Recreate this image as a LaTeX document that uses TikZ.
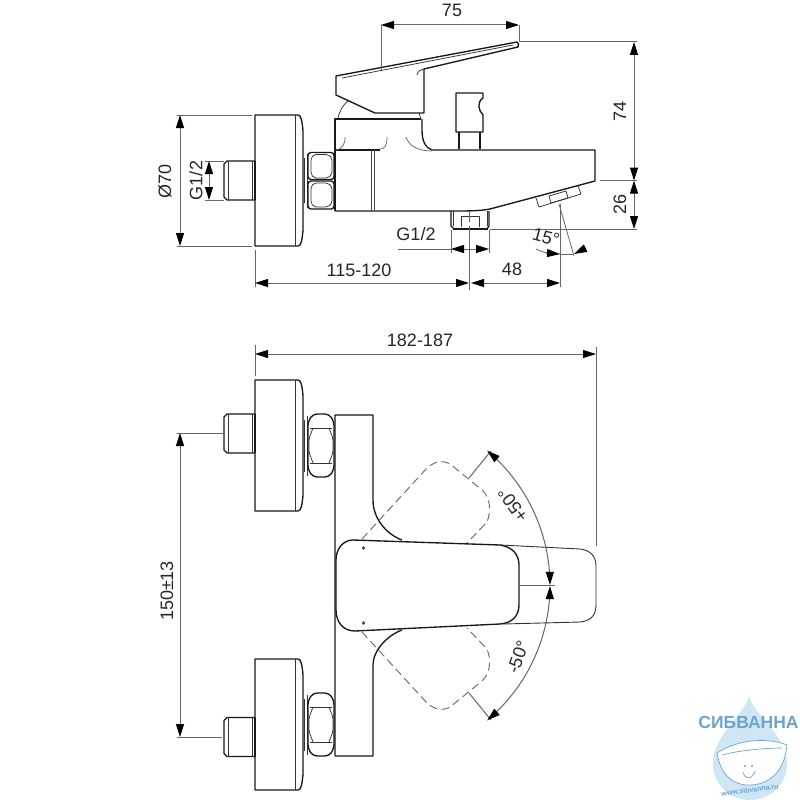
\documentclass[tikz,border=0pt]{standalone}
\usepackage{fontspec}
\setmainfont{Liberation Sans}
\usetikzlibrary{arrows.meta}
\definecolor{dimgray}{HTML}{666666}
\definecolor{logoblue}{HTML}{6FA3CF}
\definecolor{logolight}{HTML}{CFE6F5}
\tikzset{
  part/.style={draw=black!90,line width=1.35pt,line join=round},
  thinpart/.style={draw=black!80,line width=0.75pt,line join=round},
  hidden/.style={draw=black!60,line width=0.9pt,dash pattern=on 8pt off 4.5pt},
  dimline/.style={draw=dimgray,line width=1pt},
  both/.style={dimline,{Triangle[length=13pt,width=8pt,black]}-{Triangle[length=13pt,width=8pt,black]}},
  tipend/.style={dimline,-{Triangle[length=13pt,width=8pt,black]}},
  lab/.style={text=black!85,inner sep=0pt,font=\fontsize{18}{20}\selectfont},
  pics/plate/.style={code={
    \draw[part] (255,-65.5) -- (298,-65.5) .. controls (301,-65.5) and (302,-60) .. (303,-50) -- (303,50) .. controls (302,60) and (301,65.5) .. (298,65.5) -- (255,65.5) -- cycle;
    \draw[thinpart] (295,-65.5) -- (295,65.5);
  }},
  pics/stub/.style={code={
    \draw[part] (255,-19.5) -- (227,-19.5) -- (224,-16.5) -- (224,16.5) -- (227,19.5) -- (255,19.5);
    \draw[thinpart] (228,-19.5) -- (228,19.5) (252,-19.5) -- (252,19.5);
    \draw[part] (255,-19.5) -- (255,19.5);
  }},
  pics/longnut/.style={code={
    \draw[thinpart] (304,-26) -- (304,26) (307,-30) -- (307,30);
    \draw[part,rounded corners=4pt] (308,-24) -- (313,-31.5) -- (329,-31.5) -- (334,-24) -- (334,24) -- (329,31.5) -- (313,31.5) -- (308,24) -- cycle;
    \draw[thinpart] (310,-17.5) -- (332,-17.5) (310,17.5) -- (332,17.5);
    \draw[thinpart,rounded corners=2pt] (313,-17.5) -- (309,-7) -- (309,7) -- (313,17.5) (329,-17.5) -- (333,-7) -- (333,7) -- (329,17.5);
  }}
}
\begin{document}
\begin{tikzpicture}[x=1pt,y=-1pt]
\useasboundingbox (0,0) rectangle (800,800);
\fill[white] (0,0) rectangle (800,800);

% ---------- logo
\fill[logolight] (749,695) .. controls (745,715) and (713,735) .. (713,763) .. controls (713,785) and (730,800) .. (750,800) .. controls (770,800) and (787,785) .. (787,763) .. controls (787,735) and (753,715) .. (749,695) -- cycle;
\fill[white] (717,753) .. controls (740,738) and (770,738) .. (787,745) .. controls (785,770) and (770,786) .. (747,785) .. controls (730,784) and (720,772) .. (717,753) -- cycle;
\draw[logoblue,line width=0.7pt] (717,753) .. controls (740,738) and (770,738) .. (787,745) .. controls (785,770) and (770,786) .. (747,785) .. controls (730,784) and (720,772) .. (717,753) -- cycle;
\draw[logoblue,line width=0.7pt] (722,755) .. controls (740,750) and (768,748) .. (782,748);
\draw[logoblue,line width=0.7pt] (743,772) .. controls (745,780) and (752,780) .. (755,771);
\fill[logoblue] (745,766) circle (1.2pt) (752,766) circle (1.2pt);
\node[inner sep=0pt,text=logoblue,font=\fontsize{17.5}{19}\bfseries\selectfont] (logotext) at (748.5,722) {СИБВАННА};
\node[inner sep=0pt,text=logoblue,rotate=8,font=\fontsize{7}{8}\bfseries\selectfont] (logourl) at (750,790) {www.sibvanna.ru};

% ---------- side view
\pic at (0,180.5) {plate};
\pic at (0,180.5) {stub};
% nut, side view
\draw[thinpart] (304,158) -- (304,203) (307,154) -- (307,208);
\draw[part,rounded corners=3pt] (308,152.5) rectangle (334,179.5);
\draw[part,rounded corners=3pt] (308,181) rectangle (334,209);
\draw[thinpart,rounded corners=2pt] (311,158) -- (314,154.5) -- (328,154.5) -- (332,158) -- (332,174) -- (328,178) -- (314,178) -- (311,174) -- cycle;
\draw[thinpart,rounded corners=2pt] (311,187) -- (314,183) -- (328,183) -- (332,187) -- (332,203) -- (328,207) -- (314,207) -- (311,203) -- cycle;
% body
\draw[part] (335,211) -- (335,119) -- (421,119);
\draw[part] (335,150) -- (380,150);
\draw[part] (335,211) -- (450,211) .. controls (470,211) and (480,211) .. (490,209) -- (595,181) -- (595,150) -- (432,150) .. controls (426,148) and (422,142) .. (422,130) -- (422,119);
\draw[thinpart,draw=black!70] (371,150) -- (371,211) (374,150) -- (374,211);
\draw[thinpart,draw=black!60] (345,137) .. controls (345,145) and (342,149) .. (336,150);
\draw[thinpart,draw=black!60] (387,137) .. controls (387,145) and (385,149) .. (380,149);
\draw[thinpart,draw=black!60] (406,137) .. controls (409,146) and (418,151) .. (432,151);
% nozzle
\draw[part] (451,211) -- (451,226) -- (454,229) -- (487,229) -- (489,226) -- (489,211);
\draw[line width=1.8pt,black!90] (453,229) -- (488,229);
\draw[thinpart] (453.5,211) -- (453.5,226) (487,211) -- (487,226);
\draw[thinpart] (461,227) -- (461,216) -- (479,216) -- (479,227);
% aerator
\draw[thinpart] (536,198) -- (539,207) -- (581,194) -- (578,186);
\draw[thinpart] (549,196) -- (566,191) -- (568,198) -- (551,203) -- cycle;
% handle, side view
\draw[part] (336,76) -- (517,42) -- (518.5,44) -- (518,47) -- (424,69) -- (424,113) -- (375,113) -- (336,95) -- cycle;
\draw[thinpart] (342,78) -- (513,45);
\draw[thinpart] (417,75) .. controls (418,71) and (420,70) .. (424,69);
\draw[thinpart] (338,118) .. controls (340,110) and (343,105) .. (348,101);
\draw[thinpart] (419,113) -- (421,119);
% diverter
\draw[part] (459,132) -- (456,132) -- (456,93) -- (483,93) -- (483,98) .. controls (477,102) and (478,110) .. (483,115) -- (483,132) -- cycle;
\draw[part] (459,132) -- (459,149) (480,132) -- (480,149);

% ---------- side view dimensions
\coordinate (d75l) at (381,25); \coordinate (d75r) at (519,25);
\draw[dimline] (381,70) -- (d75l);
\draw[dimline] (519,41) -- (d75r);
\draw[both] (d75l) -- (d75r);
\node[lab] (t75) at (452,10) {75};

\draw[dimline] (519,42) -- (637,42);
\draw[dimline] (600,180.5) -- (637,180.5);
\draw[dimline] (490,229) -- (637,229);
\coordinate (d74a) at (634,42); \coordinate (d74b) at (634,180.5); \coordinate (d26b) at (634,229);
\draw[both] (d74a) -- (d74b);
\draw[both] (d74b) -- (d26b);
\node[lab,rotate=90] (t74) at (620,111) {74};
\node[lab,rotate=90] (t26) at (620,204) {26};

\draw[dimline] (177,115) -- (252,115) (177,246) -- (252,246);
\coordinate (o70a) at (180,115); \coordinate (o70b) at (180,246);
\draw[both] (o70a) -- (o70b);
\node[lab,rotate=90] (to70) at (165,181) {Ø70};

\draw[dimline] (205,161) -- (224,161) (205,200) -- (224,200);
\coordinate (g1a) at (209,161); \coordinate (g1b) at (209,200);
\draw[both] (g1a) -- (g1b);
\node[lab,rotate=90] (tg1) at (196,180.5) {G1/2};

\draw[dimline] (451,230) -- (451,253) (489,230) -- (489,253);
\coordinate (g2a) at (451,249); \coordinate (g2b) at (489,249); \coordinate (g2l) at (398,249);
\draw[dimline] (g2l) -- (g2a);
\draw[both] (g2a) -- (g2b);
\node[lab] (tg2) at (416,234) {G1/2};

\draw[dimline] (255,250) -- (255,287);
\draw[dimline] (469.5,212) -- (469.5,222) (469.5,226) -- (469.5,290);
\draw[dimline] (560,204) -- (560,287);
\coordinate (d115a) at (255,283); \coordinate (d115b) at (469,283); \coordinate (d48a) at (471,283); \coordinate (d48b) at (560,283);
\draw[both] (d115a) -- (d115b);
\draw[both] (d48a) -- (d48b);
\node[lab] (t115) at (359,270) {115-120};
\node[lab] (t48) at (512,269) {48};

\draw[dimline,line width=0.8pt] (559,204) -- (574,256);
\draw[dimline,line width=0.8pt] (536,249) .. controls (543,253) and (552,254) .. (560,254);
\draw[dimline,line width=0.8pt] (560,254) -- (574,254);
\draw[tipend] (546,253) -- (560,254);
\draw[tipend] (586,248) -- (574,254);
\node[lab,rotate=-15] (t15) at (546,237) {15°};

% ---------- front view
\pic at (0,445.5) {plate};
\pic at (0,433.5) {stub};
\pic at (0,445.5) {longnut};
\pic at (0,724.5) {plate};
\pic at (0,737) {stub};
\pic at (0,724.5) {longnut};
% body
\draw[part] (335,756) -- (335,415) -- (373,415) -- (373,500) .. controls (373,520) and (388,535) .. (402,540);
\draw[part] (335,756) -- (373,756) -- (373,665) .. controls (373,650) and (388,635) .. (402,630);
% dashed handle positions
\draw[hidden] (362,539) -- (427,468) .. controls (437,459) and (447,460) .. (455,468) -- (482,490) .. controls (491,498) and (491,512) .. (487,522) -- (467,543);
\draw[hidden] (362,632) -- (427,703) .. controls (437,712) and (447,711) .. (455,703) -- (482,681) .. controls (491,673) and (491,659) .. (487,649) -- (467,628);
% handle, front view
\draw[part,fill=white] (353,540) -- (500,545) .. controls (512,547) and (519,554) .. (519,565) -- (519,605) .. controls (519,616) and (512,623) .. (500,624) -- (355,631) .. controls (343,631) and (336,622) .. (336,610) -- (336,560) .. controls (336,549) and (343,540) .. (353,540) -- cycle;
\draw[thinpart,line width=0.9pt] (500,545) -- (580,549) .. controls (590,550) and (596,556) .. (596,566) -- (596,605) .. controls (596,616) and (590,621) .. (580,622) -- (503,624);
\fill[black!70] (363.5,548) circle (1.8pt) (363.5,623) circle (1.8pt);

% ---------- front view dimensions
\draw[dimline] (255,345) -- (255,376);
\draw[dimline] (596,347) -- (596,546);
\coordinate (d182a) at (255,354); \coordinate (d182b) at (596,354);
\draw[both] (d182a) -- (d182b);
\node[lab] (t182) at (420,340) {182-187};

\draw[dimline] (177,433) -- (223,433) (177,737) -- (222,737);
\coordinate (d150a) at (180,433); \coordinate (d150b) at (180,737);
\draw[both] (d150a) -- (d150b);
\node[lab,rotate=90] (t150) at (167,591) {150±13};

\draw[dimline] (519,585.5) -- (555,585.5);
\draw[dimline] (469,478) -- (491,451);
\draw[dimline] (469,693) -- (491,720);
\draw[both] plot[domain=50:0.2,samples=30,smooth] ({374+176*cos(\x)},{585.5-176*sin(\x)});
\draw[both] plot[domain=-50:-0.2,samples=30,smooth] ({374+176*cos(\x)},{585.5-176*sin(\x)});
\node[lab,rotate=126] (tp50) at (513,505) {+50°};
\node[lab,rotate=70] (tm50) at (518,657) {-50°};
\end{tikzpicture}
\end{document}
